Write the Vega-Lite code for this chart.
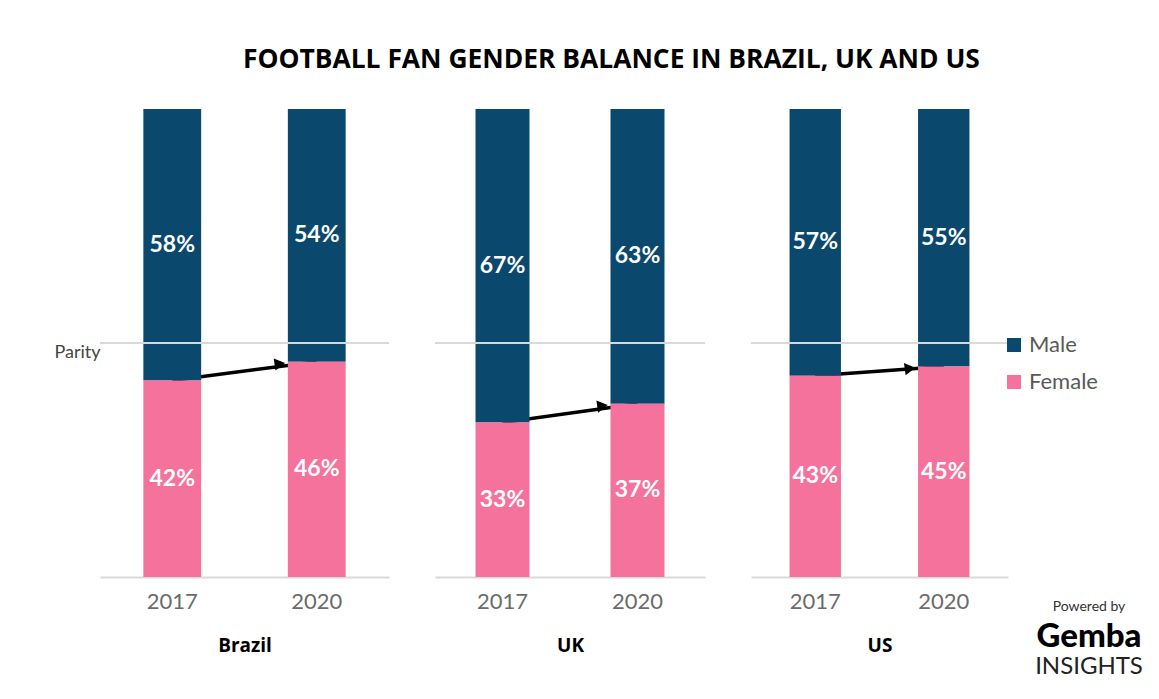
{
  "$schema": "https://vega.github.io/schema/vega-lite/v6.json",
  "padding": {"left": 53, "top": 46, "right": 5, "bottom": 5},
  "background": "white",
  "bounds": "flush",
  "title": {"text": "FOOTBALL FAN GENDER BALANCE IN BRAZIL, UK AND US", "font": "Open Sans", "fontWeight": "bold", "fontSize": 26.4, "color": "#000000", "anchor": "start", "frame": "group", "offset": 36, "dx": 143},
  "datasets": {
    "shares": [
      {"country": "Brazil", "year": "2017", "gender": "Male", "value": 0.58},
      {"country": "Brazil", "year": "2017", "gender": "Female", "value": 0.42},
      {"country": "Brazil", "year": "2020", "gender": "Male", "value": 0.54},
      {"country": "Brazil", "year": "2020", "gender": "Female", "value": 0.46},
      {"country": "UK", "year": "2017", "gender": "Male", "value": 0.67},
      {"country": "UK", "year": "2017", "gender": "Female", "value": 0.33},
      {"country": "UK", "year": "2020", "gender": "Male", "value": 0.63},
      {"country": "UK", "year": "2020", "gender": "Female", "value": 0.37},
      {"country": "US", "year": "2017", "gender": "Male", "value": 0.57},
      {"country": "US", "year": "2017", "gender": "Female", "value": 0.43},
      {"country": "US", "year": "2020", "gender": "Male", "value": 0.55},
      {"country": "US", "year": "2020", "gender": "Female", "value": 0.45}
    ],
    "logo": [
      {"line": "Powered by", "rank": 1},
      {"line": "Gemba", "rank": 2},
      {"line": "INSIGHTS", "rank": 3}
    ]
  },
  "spacing": 46,
  "hconcat": [
    {
      "width": 289, "height": 468,
      "data": {"name": "shares"},
      "transform": [{"filter": "datum.country === 'Brazil'"}],
      "layer": [
        {"transform": [{"filter": "datum.gender === 'Female'"}], "mark": {"type": "line", "color": "#000000", "strokeWidth": 3.5}, "encoding": {"x": {"field": "year", "type": "ordinal", "scale": {"paddingInner": 0.6, "paddingOuter": 0.3}, "axis": {"title": "Brazil"}}, "y": {"field": "value", "type": "quantitative", "scale": {"domain": [0, 1], "nice": false}, "axis": {"values": [0.5], "labelExpr": "'Parity'", "domain": false, "ticks": false, "grid": false, "title": null, "labelFont": "Lato", "labelFontSize": 18, "labelColor": "#444444", "labelPadding": 0, "labelBaseline": "top", "labelFontWeight": "normal"}}}},
        {"mark": {"type": "bar"}, "encoding": {"x": {"field": "year", "type": "ordinal"}, "y": {"field": "value", "type": "quantitative", "stack": "zero"}, "color": {"field": "gender", "type": "nominal", "scale": {"domain": ["Male", "Female"], "range": ["#0b486e", "#f4729b"]}, "legend": {"title": null, "orient": "none", "legendX": 903, "legendY": 225, "symbolType": "square", "symbolSize": 196, "symbolStrokeWidth": 0, "labelFont": "Lato", "labelFontSize": 22, "labelColor": "#595959", "rowPadding": 15, "labelOffset": 4}}, "order": {"field": "gender", "sort": "ascending"}}},
        {"mark": {"type": "rule", "color": "#d9d9d9", "strokeWidth": 1.5}, "encoding": {"y": {"datum": 0.5}}},
        {"transform": [{"filter": "datum.gender === 'Female' && datum.year === '2020'"}], "mark": {"type": "point", "shape": "triangle-right", "filled": true, "color": "#000000", "opacity": 1, "size": 150, "angle": -8, "xOffset": -8, "yOffset": 2}, "encoding": {"x": {"field": "year", "type": "ordinal", "bandPosition": 0}, "y": {"field": "value", "type": "quantitative"}}},
        {"transform": [{"stack": "value", "groupby": ["year"], "sort": [{"field": "gender", "order": "ascending"}], "as": ["v0", "v1"]}, {"calculate": "(datum.v0 + datum.v1) / 2", "as": "mid"}], "mark": {"type": "text", "color": "#ffffff", "font": "Lato", "fontWeight": "bold", "fontSize": 23}, "encoding": {"x": {"field": "year", "type": "ordinal"}, "y": {"field": "mid", "type": "quantitative"}, "text": {"field": "value", "type": "quantitative", "format": ".0%"}}}
      ]
    },
    {
      "width": 270, "height": 468,
      "data": {"name": "shares"},
      "transform": [{"filter": "datum.country === 'UK'"}],
      "layer": [
        {"transform": [{"filter": "datum.gender === 'Female'"}], "mark": {"type": "line", "color": "#000000", "strokeWidth": 3.5}, "encoding": {"x": {"field": "year", "type": "ordinal", "scale": {"paddingInner": 0.6, "paddingOuter": 0.3}, "axis": {"title": "UK"}}, "y": {"field": "value", "type": "quantitative", "scale": {"domain": [0, 1], "nice": false}, "axis": null}}},
        {"mark": {"type": "bar"}, "encoding": {"x": {"field": "year", "type": "ordinal"}, "y": {"field": "value", "type": "quantitative", "stack": "zero", "axis": null}, "color": {"field": "gender", "type": "nominal", "scale": {"domain": ["Male", "Female"], "range": ["#0b486e", "#f4729b"]}, "legend": {"title": null, "orient": "none", "legendX": 903, "legendY": 225, "symbolType": "square", "symbolSize": 196, "symbolStrokeWidth": 0, "labelFont": "Lato", "labelFontSize": 22, "labelColor": "#595959", "rowPadding": 15, "labelOffset": 4}}, "order": {"field": "gender", "sort": "ascending"}}},
        {"mark": {"type": "rule", "color": "#d9d9d9", "strokeWidth": 1.5}, "encoding": {"y": {"datum": 0.5, "axis": null}}},
        {"transform": [{"filter": "datum.gender === 'Female' && datum.year === '2020'"}], "mark": {"type": "point", "shape": "triangle-right", "filled": true, "color": "#000000", "opacity": 1, "size": 150, "angle": -8, "xOffset": -8, "yOffset": 2}, "encoding": {"x": {"field": "year", "type": "ordinal", "bandPosition": 0}, "y": {"field": "value", "type": "quantitative", "axis": null}}},
        {"transform": [{"stack": "value", "groupby": ["year"], "sort": [{"field": "gender", "order": "ascending"}], "as": ["v0", "v1"]}, {"calculate": "(datum.v0 + datum.v1) / 2", "as": "mid"}], "mark": {"type": "text", "color": "#ffffff", "font": "Lato", "fontWeight": "bold", "fontSize": 23}, "encoding": {"x": {"field": "year", "type": "ordinal"}, "y": {"field": "mid", "type": "quantitative", "axis": null}, "text": {"field": "value", "type": "quantitative", "format": ".0%"}}}
      ]
    },
    {
      "width": 257, "height": 468,
      "data": {"name": "shares"},
      "transform": [{"filter": "datum.country === 'US'"}],
      "layer": [
        {"transform": [{"filter": "datum.gender === 'Female'"}], "mark": {"type": "line", "color": "#000000", "strokeWidth": 3.5}, "encoding": {"x": {"field": "year", "type": "ordinal", "scale": {"paddingInner": 0.6, "paddingOuter": 0.3}, "axis": {"title": "US"}}, "y": {"field": "value", "type": "quantitative", "scale": {"domain": [0, 1], "nice": false}, "axis": null}}},
        {"mark": {"type": "bar"}, "encoding": {"x": {"field": "year", "type": "ordinal"}, "y": {"field": "value", "type": "quantitative", "stack": "zero", "axis": null}, "color": {"field": "gender", "type": "nominal", "scale": {"domain": ["Male", "Female"], "range": ["#0b486e", "#f4729b"]}, "legend": {"title": null, "orient": "none", "legendX": 903, "legendY": 225, "symbolType": "square", "symbolSize": 196, "symbolStrokeWidth": 0, "labelFont": "Lato", "labelFontSize": 22, "labelColor": "#595959", "rowPadding": 15, "labelOffset": 4}}, "order": {"field": "gender", "sort": "ascending"}}},
        {"mark": {"type": "rule", "color": "#d9d9d9", "strokeWidth": 1.5}, "encoding": {"y": {"datum": 0.5, "axis": null}}},
        {"transform": [{"filter": "datum.gender === 'Female' && datum.year === '2020'"}], "mark": {"type": "point", "shape": "triangle-right", "filled": true, "color": "#000000", "opacity": 1, "size": 150, "angle": -8, "xOffset": -8, "yOffset": 2}, "encoding": {"x": {"field": "year", "type": "ordinal", "bandPosition": 0}, "y": {"field": "value", "type": "quantitative", "axis": null}}},
        {"transform": [{"stack": "value", "groupby": ["year"], "sort": [{"field": "gender", "order": "ascending"}], "as": ["v0", "v1"]}, {"calculate": "(datum.v0 + datum.v1) / 2", "as": "mid"}], "mark": {"type": "text", "color": "#ffffff", "font": "Lato", "fontWeight": "bold", "fontSize": 23}, "encoding": {"x": {"field": "year", "type": "ordinal"}, "y": {"field": "mid", "type": "quantitative", "axis": null}, "text": {"field": "value", "type": "quantitative", "format": ".0%"}}}
      ]
    },
    {
      "width": 70, "height": 558,
      "data": {"name": "logo"},
      "encoding": {"y": {"field": "rank", "type": "quantitative", "scale": {"domain": [-15.6, 3], "reverse": true, "nice": false, "zero": false}, "axis": null}, "text": {"field": "line", "type": "nominal"}},
      "layer": [
        {"transform": [{"filter": "datum.line === 'Powered by'"}], "mark": {"type": "text", "font": "Lato", "fontSize": 14, "color": "#333333"}},
        {"transform": [{"filter": "datum.line === 'Gemba'"}], "mark": {"type": "text", "font": "Lato", "fontSize": 33, "fontWeight": 900, "color": "#000000"}},
        {"transform": [{"filter": "datum.line === 'INSIGHTS'"}], "mark": {"type": "text", "font": "Lato", "fontSize": 24, "color": "#222222"}}
      ]
    }
  ],
  "resolve": {"scale": {"x": "independent", "y": "independent", "color": "shared"}, "legend": {"color": "shared"}},
  "config": {
    "view": {"stroke": null},
    "font": "Lato",
    "axisX": {"labelAngle": 0, "domainColor": "#d9d9d9", "domainWidth": 2, "ticks": false, "grid": false, "labelFont": "Lato", "labelFontSize": 22, "labelColor": "#6b6b6b", "labelPadding": 14, "titleFont": "Open Sans", "titleFontSize": 19, "titleFontWeight": "bold", "titleColor": "#000000", "titlePadding": 24}
  }
}
